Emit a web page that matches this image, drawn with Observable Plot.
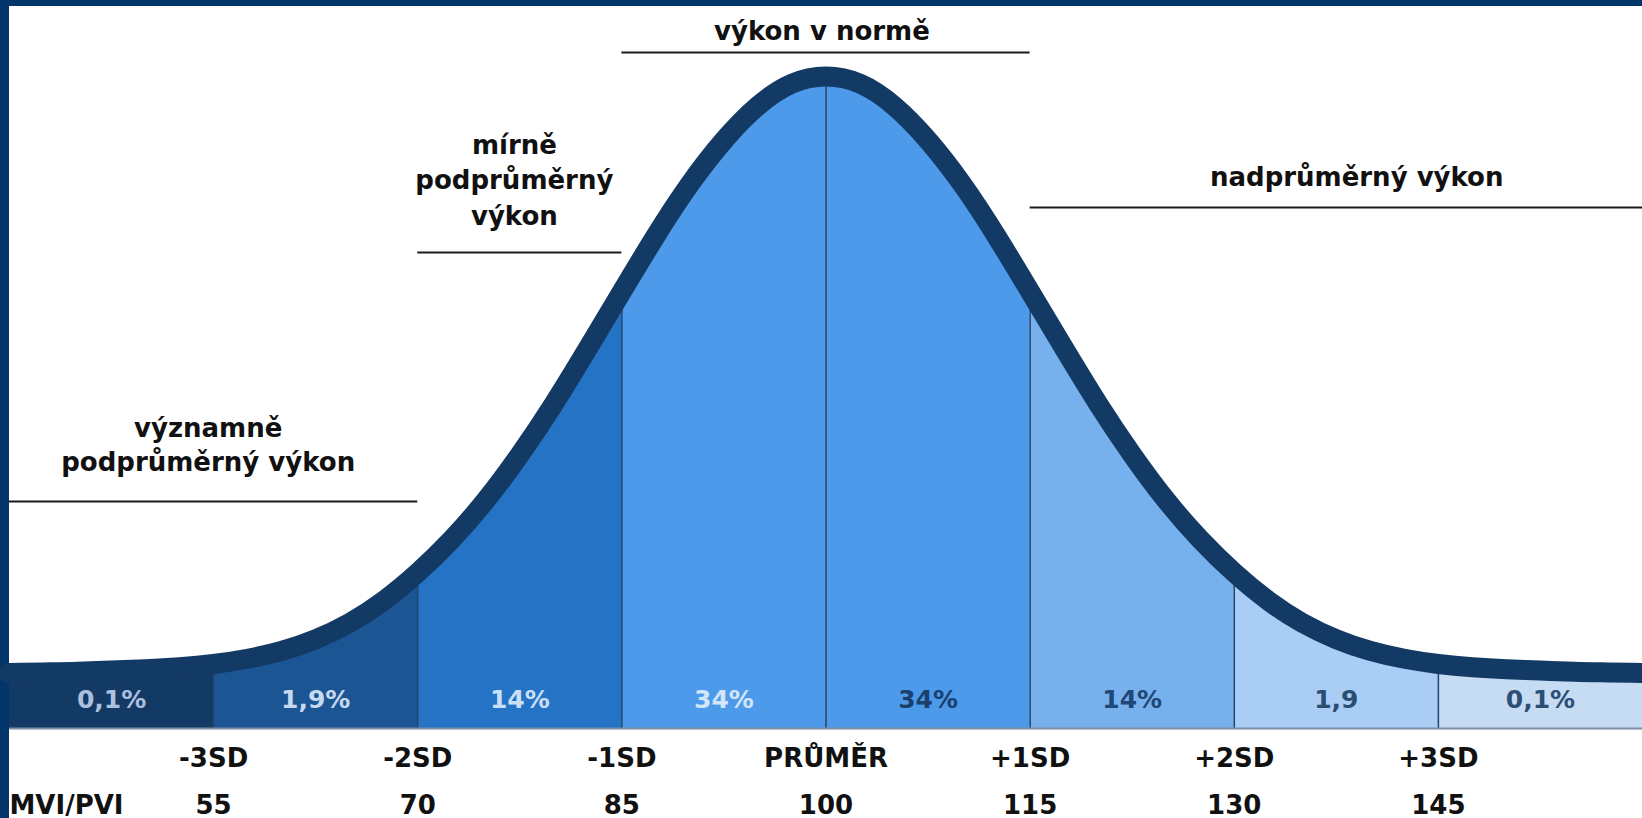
<!DOCTYPE html>
<html>
<head>
<meta charset="utf-8">
<script src="https://cdn.jsdelivr.net/npm/d3@7"></script>
<script src="https://cdn.jsdelivr.net/npm/@observablehq/plot@0.6"></script>
<style>
  html, body { margin: 0; padding: 0; background: #ffffff; }
  body { width: 1642px; height: 818px; overflow: hidden; position: relative; }
  .frame { position: absolute; background: #02366b; }
  #frame-top { left: 0; top: 0; width: 1642px; height: 6px; }
  #frame-left { left: 0; top: 0; width: 9px; height: 818px; }
  #chart { position: absolute; left: 9px; top: 6px; }
  #chart svg { overflow: visible; }
</style>
</head>
<body>
<div class="frame" id="frame-top"></div>
<div class="frame" id="frame-left"></div>
<div id="chart"></div>
<script>
// ---- data ----
// score axis (MVI/PVI) and curve height (% of peak, incl. the bottom strip)
const curveX = [40, 42.5, 45, 47.5, 50, 52.5, 55, 57.5, 60, 62.5, 65, 67.5, 70, 72.5, 75, 77.5, 80, 82.5, 85, 87.5, 90, 92.5, 95, 97.5,
                100, 102.5, 105, 107.5, 110, 112.5, 115, 117.5, 120, 122.5, 125, 127.5, 130, 132.5, 135, 137.5, 140, 142.5, 145, 147.5, 150, 152.5, 155, 157.5, 160];
const curveH = [8.5, 8.6, 8.7, 8.9, 9.1, 9.4, 9.9, 10.7, 11.9, 13.7, 16.2, 19.6, 23.9, 29.0, 35.0, 42.0, 49.8, 58.3, 67.0, 75.6, 83.5, 90.2, 95.5, 98.9,
                100, 98.9, 95.5, 90.2, 83.5, 75.6, 67.0, 58.3, 49.8, 42.0, 35.0, 29.0, 23.9, 19.6, 16.2, 13.7, 11.9, 10.7, 9.9, 9.4, 9.1, 8.9, 8.7, 8.6, 8.5];

const sdBounds = [55, 70, 85, 100, 115, 130, 145];
const sdLabels = ["-3SD", "-2SD", "-1SD", "PRŮMĚR", "+1SD", "+2SD", "+3SD"];
const scoreLabels = ["55", "70", "85", "100", "115", "130", "145"];
const rowLabel = "MVI/PVI";

const segStart = [40, 55, 70, 85, 100, 115, 130, 145];
const segEnd = [55, 70, 85, 100, 115, 130, 145, 160];
const segPercent = ["0,1%", "1,9%", "14%", "34%", "34%", "14%", "1,9", "0,1%"];

const annLabels = ["významně\npodprůměrný výkon", "mírně\npodprůměrný\nvýkon", "výkon v normě", "nadprůměrný výkon"];
const annFrom = [40, 70, 85, 115];
const annTo = [70, 85, 115, 160];

// ---- styles / layout ----
const segFill = ["#133a65", "#1c5594", "#2473c5", "#4e9aea", "#4e9aea", "#76b1ee", "#a9cdf5", "#c6dcf3"];
const segTextColor = ["#aac0de", "#c6d9ef", "#cadff6", "#d2e5f9", "#1a416e", "#1f4777", "#2b4d72", "#2d4f75"];
const curveColor = "#133a65";
const annTextX = [54.6, 77.1, 99.7, 139];
const annTextY = [43.7, 84.4, 107.2, 84.8];
const annLineY = [34.8, 73.0, 103.7, 79.9];
const annLineHeight = [1.3, 1.35, 1.2, 1.2];
const FONT = "DejaVu Sans";

const curveRows = curveX.map((x, i) => ({x, y: curveH[i]}));
const hAt = v => curveH[curveX.indexOf(v)];

const segAreas = segStart.map((a, i) =>
  Plot.areaY(curveRows.filter(d => d.x >= a && d.x <= segEnd[i]), {
    x: "x", y: "y", fill: segFill[i], curve: "natural"
  })
);

const annIdx = annLabels.map((_, i) => i);

const plot = Plot.plot({
  width: 1633,
  height: 812,
  marginTop: 0, marginBottom: 0, marginLeft: 0, marginRight: 0,
  style: {background: "transparent", fontFamily: FONT},
  x: {domain: [40, 160], range: [0, 1633], axis: null},
  y: {domain: [0, 100], range: [722, 70], axis: null},
  marks: [
    ...segAreas,
    Plot.ruleX(sdBounds, {x: d => d, y1: 0, y2: d => hAt(d), stroke: "#24466f", strokeWidth: 1.6}),
    Plot.ruleY([0], {stroke: "#7d8ea6", strokeWidth: 2}),
    Plot.line(curveRows, {x: "x", y: "y", stroke: curveColor, strokeWidth: 20, curve: "natural"}),
    // percentages in the strip
    Plot.text(segPercent, {
      x: (d, i) => (segStart[i] + segEnd[i]) / 2, y: 4.3, text: d => d,
      fill: (d, i) => segTextColor[i], fontSize: 25, fontWeight: "bold", fontFamily: FONT
    }),
    // SD labels and scores
    Plot.text(sdLabels, {x: (d, i) => sdBounds[i], y: -4.6, text: d => d, fill: "#111", fontSize: 26, fontWeight: "bold", fontFamily: FONT}),
    Plot.text(scoreLabels, {x: (d, i) => sdBounds[i], y: -11.8, text: d => d, fill: "#111", fontSize: 26, fontWeight: "bold", fontFamily: FONT}),
    Plot.text([rowLabel], {x: 40, y: -11.8, text: d => d, textAnchor: "start", fill: "#111", fontSize: 26, fontWeight: "bold", fontFamily: FONT}),
    // annotations
    Plot.ruleY(annIdx, {y: i => annLineY[i], x1: i => annFrom[i], x2: i => annTo[i], stroke: "#1a1a1a", strokeWidth: 2}),
    ...annIdx.map(i => Plot.text([annLabels[i]], {
      x: annTextX[i], y: annTextY[i], text: d => d, lineAnchor: "middle", lineHeight: annLineHeight[i],
      fill: "#111", fontSize: 26, fontWeight: "bold", fontFamily: FONT
    }))
  ]
});
document.getElementById("chart").appendChild(plot);
</script>
</body>
</html>
